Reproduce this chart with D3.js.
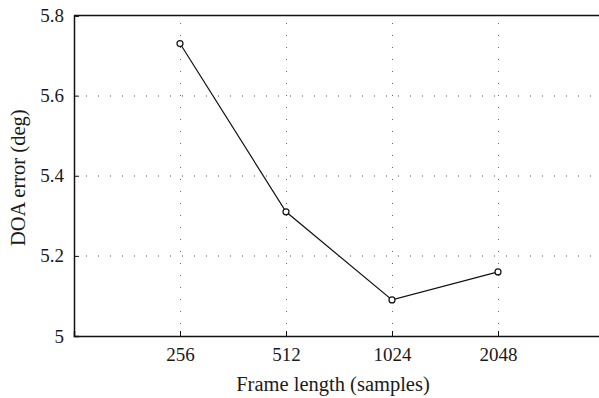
<!DOCTYPE html>
<html>
<head>
<meta charset="utf-8">
<script src="https://cdn.jsdelivr.net/npm/d3@7"></script>
<style>
  body { margin: 0; background: #fff; }
  text { font-family: "Liberation Serif", "DejaVu Serif", serif; fill: #1a1a1a; }
</style>
</head>
<body>
<svg id="chart" width="599" height="398"></svg>
<script>
var frameLabels = ["256", "512", "1024", "2048"];
var doaError = [5.73, 5.31, 5.09, 5.16];
var yTicks = [5, 5.2, 5.4, 5.6, 5.8];

var margin = { top: 15.5, left: 74 };
var width = 530;   // x domain 0..5 runs past the right edge of the picture
var height = 320.5;

var svg = d3.select("#chart")
  .append("g")
  .attr("transform", "translate(" + margin.left + "," + margin.top + ")");

var x = d3.scaleLinear().domain([0, 5]).range([0, width]);
var y = d3.scaleLinear().domain([5, 5.8]).range([height, 0]);

var lineData = frameLabels.map(function (d, i) { return { label: d, pos: i + 1, value: doaError[i] }; });

// dotted grid
svg.selectAll(".hgrid")
  .data(yTicks.slice(1, 4))
  .enter().append("line")
  .attr("x1", 0).attr("x2", width)
  .attr("y1", function (d) { return Math.round(y(d)) + 0.5; })
  .attr("y2", function (d) { return Math.round(y(d)) + 0.5; })
  .attr("stroke", "#444").attr("stroke-width", 1)
  .attr("stroke-dasharray", "1,11");

svg.selectAll(".vgrid")
  .data(lineData)
  .enter().append("line")
  .attr("x1", function (d) { return Math.round(x(d.pos)) + 0.5; })
  .attr("x2", function (d) { return Math.round(x(d.pos)) + 0.5; })
  .attr("y1", height).attr("y2", 0)
  .attr("stroke", "#666").attr("stroke-width", 1)
  .attr("stroke-dasharray", "1,11");

// axes
var yAxis = d3.axisLeft(y).tickValues(yTicks).tickSize(-5).tickPadding(10)
  .tickFormat(function (d) { return d === 5 ? "5" : d3.format(".1f")(d); });
var gy = svg.append("g").call(yAxis);
gy.select(".domain").attr("stroke", "#111").attr("stroke-width", 1.5);
gy.selectAll(".tick line").attr("stroke", "#111");
gy.selectAll("text").style("font-size", "19px").attr("fill", "#1a1a1a");

var xAxis = d3.axisBottom(x).tickValues(lineData.map(function (d) { return d.pos; }))
  .tickFormat(function (d) { return frameLabels[d - 1]; })
  .tickSize(-5).tickPadding(12);
var gx = svg.append("g").attr("transform", "translate(0," + height + ")").call(xAxis);
gx.select(".domain").attr("stroke", "#111").attr("stroke-width", 1.5);
gx.selectAll(".tick line").attr("stroke", "#111");
gx.selectAll("text").style("font-size", "19px").attr("fill", "#1a1a1a");

// top border
svg.append("line")
  .attr("x1", 0).attr("x2", width).attr("y1", 0).attr("y2", 0)
  .attr("stroke", "#111").attr("stroke-width", 1.5);

// the line
var valueline = d3.line()
  .x(function (d) { return x(d.pos); })
  .y(function (d) { return y(d.value); });

svg.append("path")
  .datum(lineData)
  .attr("fill", "none")
  .attr("stroke", "#111")
  .attr("stroke-width", 1.2)
  .attr("d", valueline);

svg.selectAll(".dot")
  .data(lineData)
  .enter().append("circle")
  .attr("cx", function (d) { return x(d.pos); })
  .attr("cy", function (d) { return y(d.value); })
  .attr("r", 3)
  .attr("fill", "#fff")
  .attr("stroke", "#111")
  .attr("stroke-width", 1.2);

// axis titles
svg.append("text")
  .attr("x", 259).attr("y", height + 55)
  .attr("text-anchor", "middle")
  .style("font-size", "20.5px")
  .text("Frame length (samples)");

svg.append("text")
  .attr("transform", "translate(" + (-49) + "," + (height / 2 + 2) + ") rotate(-90)")
  .attr("text-anchor", "middle")
  .style("font-size", "20.5px")
  .text("DOA error (deg)");
</script>
</body>
</html>
